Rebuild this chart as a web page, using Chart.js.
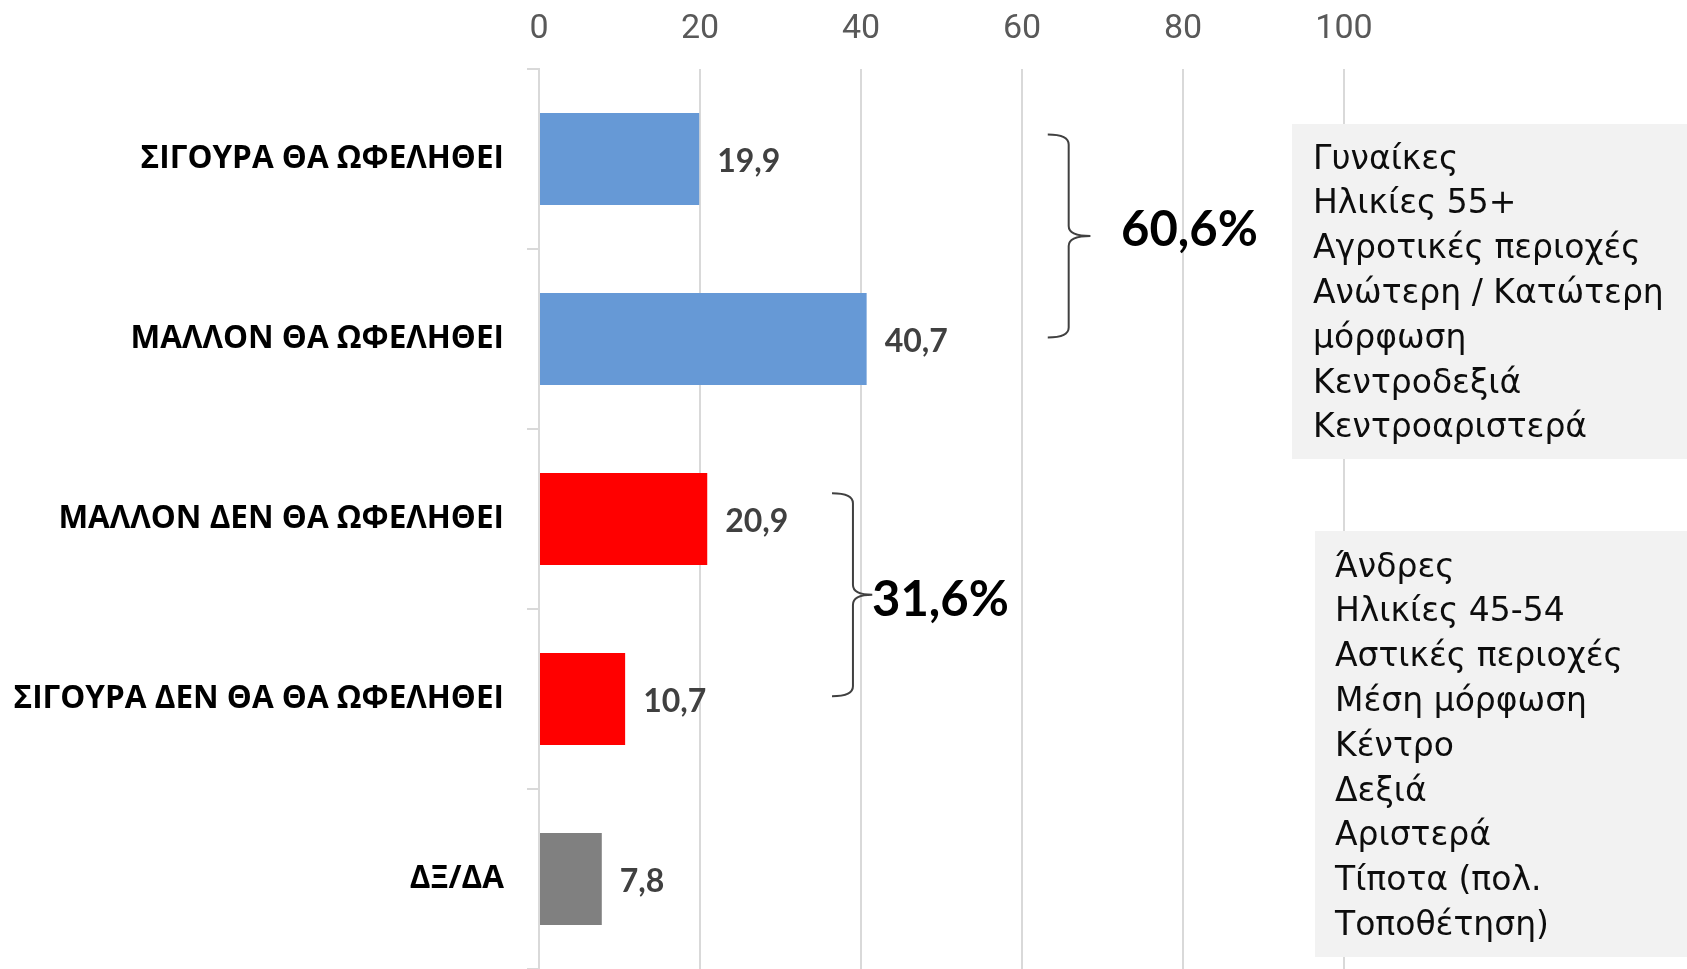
<!DOCTYPE html>
<html>
<head>
<meta charset="utf-8">
<script src="https://cdn.jsdelivr.net/npm/chart.js@4/dist/chart.umd.min.js"></script>
<style>
html,body{margin:0;padding:0;background:#fff}
#wrap{width:1687px;height:969px;position:relative}
</style>
</head>
<body>
<div id="wrap"><canvas id="chart"></canvas></div>
<script>

let categories=["ΣΙΓΟΥΡΑ ΘΑ ΩΦΕΛΗΘΕΙ","ΜΑΛΛΟΝ ΘΑ ΩΦΕΛΗΘΕΙ","ΜΑΛΛΟΝ ΔΕΝ ΘΑ ΩΦΕΛΗΘΕΙ","ΣΙΓΟΥΡΑ ΔΕΝ ΘΑ ΘΑ ΩΦΕΛΗΘΕΙ","ΔΞ/ΔΑ"]
let values=[19.9,40.7,20.9,10.7,7.8]
let barColors=["#6699d6","#6699d6","#ff0000","#ff0000","#808080"]

let xMin=0
let xMax=100
let xStep=20

// which bars each bracket groups
let positiveBars=[0,1]
let negativeBars=[2,3]

let positiveProfile=["Γυναίκες","Ηλικίες 55+","Αγροτικές περιοχές","Ανώτερη / Κατώτερη","μόρφωση","Κεντροδεξιά","Κεντροαριστερά"]
let negativeProfile=["Άνδρες","Ηλικίες 45-54","Αστικές περιοχές","Μέση μόρφωση","Κέντρο","Δεξιά","Αριστερά","Τίποτα (πολ.","Τοποθέτηση)"]

function fmt(v){
return v.toFixed(1).replace(".",",")
}

function groupSum(idx){
let s=0
idx.forEach(i=>s+=values[i])
return fmt(s)+"%"
}

function drawBrace(ctx,xl,xv,xt,top,bottom){

let mid=(top+bottom)/2
let r=10

ctx.beginPath()
ctx.moveTo(xl,top)
ctx.quadraticCurveTo(xv,top,xv,top+r)
ctx.lineTo(xv,mid-r)
ctx.quadraticCurveTo(xv,mid,xt,mid)
ctx.quadraticCurveTo(xv,mid,xv,mid+r)
ctx.lineTo(xv,bottom-r)
ctx.quadraticCurveTo(xv,bottom,xl,bottom)
ctx.stroke()

}

function drawBox(ctx,x,y,w,h,lines,tx,ty){

ctx.fillStyle="#f2f2f2"
ctx.fillRect(x,y,w,h)

ctx.fillStyle="#0d0d0d"
ctx.font="33px 'DejaVu Sans'"
ctx.textAlign="left"
ctx.textBaseline="middle"

lines.forEach((t,i)=>{
ctx.fillText(t,tx,ty+i*44.8)
})

}

let extras={

id:"extras",

afterDatasetsDraw(chart){

let ctx=chart.ctx
let bars=chart.getDatasetMeta(0).data
let xs=chart.scales.x

ctx.save()

// value labels next to bars
ctx.font="bold 32px Lato"
ctx.fillStyle="#404040"
ctx.textAlign="left"
ctx.textBaseline="middle"

bars.forEach((bar,i)=>{
ctx.fillText(fmt(values[i]),bar.x+18,bar.y+3)
})

// braces
ctx.strokeStyle="#404040"
ctx.lineWidth=2

let a=bars[positiveBars[0]]
let b=bars[positiveBars[1]]
drawBrace(ctx,xs.getPixelForValue(63.2),xs.getPixelForValue(65.8),xs.getPixelForValue(68.5),a.y-24.5,b.y-1.5)

let c=bars[negativeBars[0]]
let d=bars[negativeBars[1]]
drawBrace(ctx,xs.getPixelForValue(36.4),xs.getPixelForValue(39),xs.getPixelForValue(41.4),c.y-25.7,d.y-2.7)

ctx.font="bold 49px Lato"
ctx.fillStyle="#000"
ctx.fillText(groupSum(positiveBars),1121,(a.y+b.y)/2-19)
ctx.fillText(groupSum(negativeBars),872,(c.y+d.y)/2-9)

// profile boxes
drawBox(ctx,1292,124,395,335,positiveProfile,1313,160)
drawBox(ctx,1315,531,372,426,negativeProfile,1335,568)

ctx.restore()

}

}

new Chart(document.getElementById("chart"),{

type:"bar",

data:{
labels:categories,
datasets:[{
data:values,
backgroundColor:barColors,
barPercentage:0.51,
categoryPercentage:1
}]
},

options:{
indexAxis:"y",
responsive:true,
maintainAspectRatio:false,
devicePixelRatio:1,
animation:false,
layout:{padding:{left:0,top:0,bottom:0,right:343}},
plugins:{legend:{display:false},tooltip:{enabled:false}},
scales:{
x:{
position:"top",
min:xMin,
max:xMax,
ticks:{stepSize:xStep,color:"#595959",font:{family:"'Liberation Sans Narrow', 'Roboto'",size:34},padding:19},
grid:{color:"#d9d9d9",lineWidth:2,drawTicks:false},
border:{display:false},
afterFit(scale){scale.height=69}
},
y:{
ticks:{color:"#000",font:{family:"'Open Sans'",size:31.5,weight:"bold"},padding:23},
grid:{color:"#d9d9d9",lineWidth:2,drawOnChartArea:false,tickLength:12},
border:{color:"#d9d9d9",width:2},
afterFit(scale){
scale.width=539
scale.paddingTop=0
scale.paddingBottom=0
}
}
}
},

plugins:[extras]

})

</script>
</body>
</html>
